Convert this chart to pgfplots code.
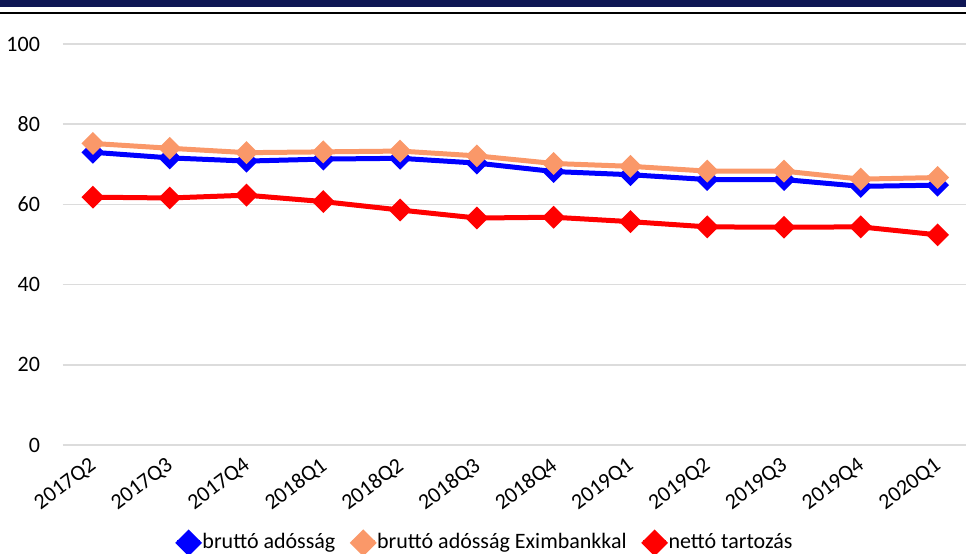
\documentclass[border=0pt]{standalone}
\usepackage{pgfplots}
\pgfplotsset{compat=1.18}
\usepackage{fontspec}
\setmainfont{Carlito}
\definecolor{navybar}{RGB}{14,22,84}
\definecolor{gridgray}{RGB}{220,220,220}
\definecolor{bluel}{RGB}{0,0,255}
\definecolor{orangel}{RGB}{250,152,105}
\definecolor{redl}{RGB}{255,0,0}
\begin{document}
\begin{tikzpicture}
\useasboundingbox (-31.5pt,-54pt) rectangle (451.5pt,222.5pt);
\fill[navybar] (-31.5pt,219pt) rectangle (451.5pt,222.5pt);
\draw[black, line width=1pt] (-31.5pt,216pt) -- (451.5pt,216pt);
\begin{axis}[
    at={(0pt,0pt)}, anchor=south west,
    scale only axis,
    width=451.5pt, height=200.5pt,
    xmin=-0.39, xmax=11.37,
    ymin=0, ymax=100,
    ytick={0,20,40,60,80,100},
    xtick={0,...,11},
    xticklabels={2017Q2,2017Q3,2017Q4,2018Q1,2018Q2,2018Q3,2018Q4,2019Q1,2019Q2,2019Q3,2019Q4,2020Q1},
    axis line style={draw=none},
    major tick length=0pt,
    ymajorgrids=true,
    grid style={gridgray, line width=0.8pt},
    clip=false,
    font=\fontsize{11}{13}\selectfont,
    /pgf/number format/assume math mode=true,
    yticklabel style={xshift=-8pt},
    xticklabel style={rotate=37, anchor=north east, inner sep=1pt, yshift=-2pt, xshift=-4pt},
    every axis plot/.append style={line width=2.5pt, mark=square*, mark size=2.8pt, mark options={rotate=45, solid}},
    legend style={at={(0.468,-0.244)}, anchor=center, draw=none, legend columns=3,
        font=\fontsize{11}{13}\selectfont, /tikz/every even column/.append style={column sep=5pt},
        /tikz/every odd column/.append style={column sep=-2pt}},
    legend image code/.code={\draw[mark repeat=2, mark phase=2, mark size=3.5pt] plot coordinates {(0cm,0cm) (0.2cm,0cm) (0.4cm,0cm)};},
]
\addplot[color=bluel] coordinates {
(0,73.0)(1,71.6)(2,70.8)(3,71.3)(4,71.5)(5,70.3)(6,68.2)(7,67.4)(8,66.2)(9,66.2)(10,64.5)(11,64.8)};
\addlegendentry{bruttó adósság}
\addplot[color=orangel] coordinates {
(0,75.2)(1,74.0)(2,72.9)(3,73.1)(4,73.3)(5,72.1)(6,70.2)(7,69.5)(8,68.3)(9,68.3)(10,66.3)(11,66.7)};
\addlegendentry{bruttó adósság Eximbankkal}
\addplot[color=redl] coordinates {
(0,61.8)(1,61.6)(2,62.3)(3,60.7)(4,58.6)(5,56.6)(6,56.8)(7,55.7)(8,54.4)(9,54.3)(10,54.4)(11,52.4)};
\addlegendentry{nettó tartozás}
\end{axis}
\end{tikzpicture}
\end{document}
